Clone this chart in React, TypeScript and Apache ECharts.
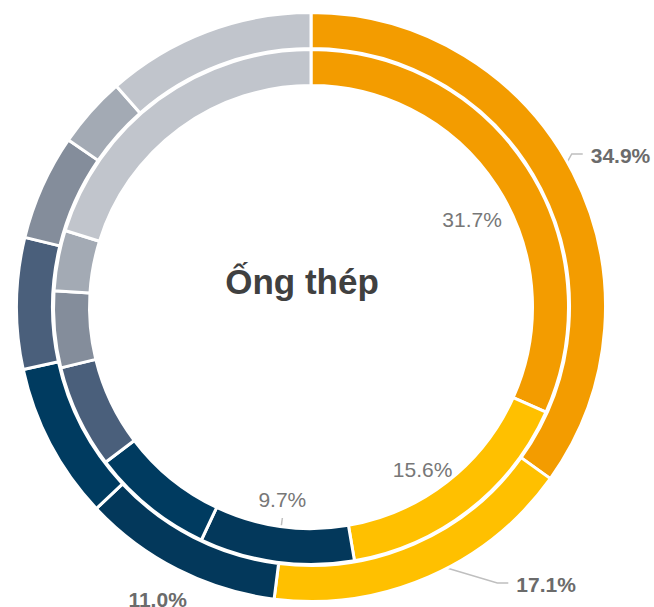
import React, { useEffect, useRef } from "react";
import * as echarts from "echarts";

// ---- data ----
const segmentNames = ["Nhóm 1", "Nhóm 2", "Nhóm 3", "Nhóm 4", "Nhóm 5", "Nhóm 6", "Nhóm 7", "Nhóm 8"];
const outerValues = [34.9, 17.1, 11.0, 8.6, 7.2, 5.8, 3.9, 11.5];
const innerValues = [31.7, 15.6, 9.7, 7.7, 6.5, 4.8, 3.8, 20.2];
const labeledIndices = [0, 1, 2];
const centerTitle = "Ống thép";

// ---- styles / layout ----
const colors = ["#F39C00", "#FFC000", "#03385B", "#003B60", "#4A5F7B", "#848D9B", "#A3AAB4", "#C1C5CC"];
const CX = 311;
const CY = 307;
const BORDER = 3;
const OUTER_R: [number, number] = [258.5, 294.5];
const INNER_R: [number, number] = [221.5, 257.5];
const FONT = '"Liberation Sans", Arial, sans-serif';

// label placement relative to each labelled slice: radius and angle offset (deg) from the slice's mid angle
const outerLabelPlace = [
  { r: 344.6, da: 1.1, line: "elbow" },
  { r: 363.6, da: -16.7, line: "elbow" },
  { r: 330.0, da: 0.7, line: "none" },
];
const innerLabelPlace = [
  { r: 183.5, da: 4.3, line: "none" },
  { r: 197.1, da: 3.3, line: "none" },
  { r: 195.1, da: 0.7, line: "down" },
];

function midAngles(values: number[]) {
  const total = values.reduce((a, b) => a + b, 0);
  let acc = 0;
  return values.map((v) => {
    const m = ((acc + v / 2) / total) * 360;
    acc += v;
    return m;
  });
}

function polar(r: number, deg: number): [number, number] {
  const rad = (deg * Math.PI) / 180;
  return [CX + r * Math.sin(rad), CY - r * Math.cos(rad)];
}

function buildData(values: number[], bold: boolean) {
  return values.map((v, i) => {
    const labelled = labeledIndices.includes(i);
    return {
      name: segmentNames[i],
      value: v,
      itemStyle: { color: colors[i] },
      label: {
        show: labelled,
        fontWeight: bold ? "bold" : "normal",
        color: bold ? "#6B6B6B" : "#777777",
      },
      labelLine: { show: labelled },
    };
  });
}

export default function App() {
  const ref = useRef<HTMLDivElement>(null);

  useEffect(() => {
    if (!ref.current) return;
    const chart = echarts.init(ref.current, undefined, { renderer: "svg" });
    const outerMid = midAngles(outerValues);
    const innerMid = midAngles(innerValues);

    const makeLayout = (seriesIdx: number) => (params: any) => {
      const idx = params.dataIndex;
      const places = seriesIdx === 0 ? outerLabelPlace : innerLabelPlace;
      const mids = seriesIdx === 0 ? outerMid : innerMid;
      const ring = seriesIdx === 0 ? OUTER_R : INNER_R;
      const p = places[idx];
      if (!p) return {};
      const [lx, ly] = polar(p.r, mids[idx] + p.da);
      const w = params.labelRect.width;
      const start = polar((ring[0] + ring[1]) / 2, mids[idx]);
      const res: any = { x: lx, y: ly, align: "center", verticalAlign: "middle" };
      if (p.line === "elbow") {
        const left = lx - w / 2;
        res.labelLinePoints = [start, [left - 19, ly - 1.5], [left - 8, ly - 1.5]];
      } else if (p.line === "down") {
        const end: [number, number] = [lx, ly + 18];
        res.labelLinePoints = [start, end, end];
      } else {
        res.labelLinePoints = [start, start, start];
      }
      return res;
    };

    const common = {
      type: "pie",
      center: [CX, CY],
      startAngle: 90,
      clockwise: true,
      avoidLabelOverlap: false,
      silent: true,
      emphasis: { disabled: true },
      itemStyle: { borderColor: "#FFFFFF", borderWidth: BORDER },
      label: {
        position: "outside",
        fontFamily: FONT,
        fontSize: 21,
        formatter: (p: any) => `${Number(p.value).toFixed(1)}%`,
      },
      labelLine: {
        show: true,
        lineStyle: { color: "#BFBFBF", width: 1.5 },
      },
    };

    chart.setOption({
      animation: false,
      backgroundColor: "#FFFFFF",
      graphic: [
        {
          type: "text",
          x: 302,
          y: 281,
          style: {
            text: centerTitle,
            fontFamily: FONT,
            fontSize: 35,
            fontWeight: "bold",
            fill: "#404040",
            align: "center",
            verticalAlign: "middle",
          },
        },
      ],
      series: [
        {
          ...common,
          name: "outer",
          radius: OUTER_R,
          data: buildData(outerValues, true),
          labelLayout: makeLayout(0),
        },
        {
          ...common,
          name: "inner",
          radius: INNER_R,
          data: buildData(innerValues, false),
          labelLayout: makeLayout(1),
        },
      ],
    });
    return () => chart.dispose();
  }, []);

  return (
    <div
      ref={ref}
      style={{ position: "fixed", left: 0, top: 0, width: 654, height: 607 }}
    />
  );
}
